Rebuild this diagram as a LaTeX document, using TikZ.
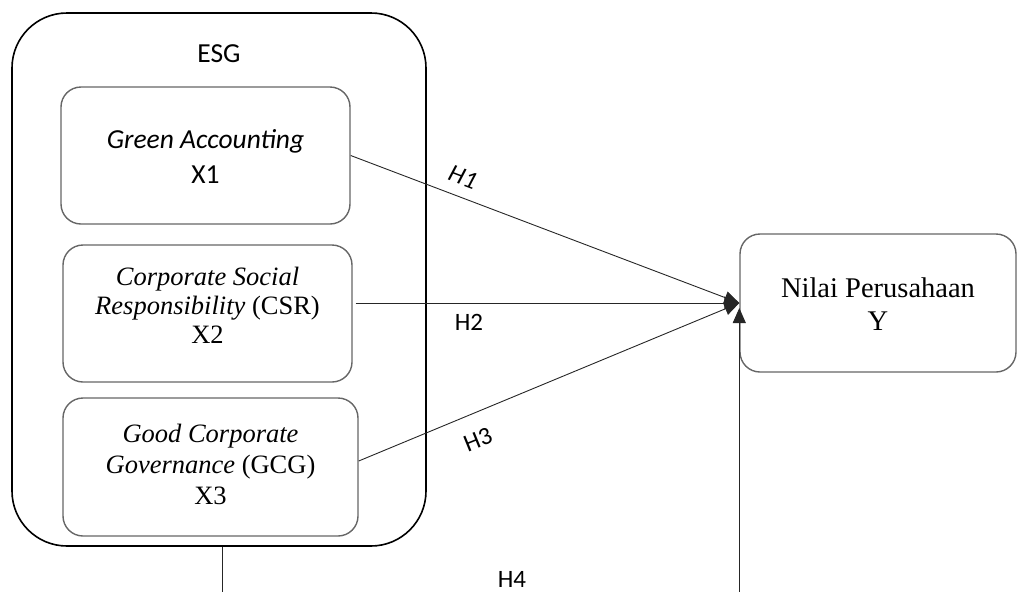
\documentclass[tikz,border=0pt]{standalone}
\usepackage{fontspec}
\setmainfont{Liberation Serif}
\newfontfamily\calibri{Carlito}
\usetikzlibrary{arrows.meta}
\definecolor{boxgray}{HTML}{666666}
\tikzset{
  outerbox/.style={draw=black, line width=1.6pt, rounded corners=55pt, minimum width=414pt, minimum height=533pt, inner sep=0pt},
  ibox/.style={draw=boxgray, line width=1.4pt, rounded corners=20pt, inner sep=0pt},
  caltext/.style={font=\calibri\fontsize{27.5}{35}\selectfont, align=center, inner sep=0pt},
  sertext/.style={align=center, inner sep=0pt},
  hlab/.style={font=\calibri\fontsize{25}{30}\selectfont, inner sep=0pt},
  conn/.style={draw=black!85, line width=0.9pt, -{Triangle[length=15pt,width=13pt]}},
}
\begin{document}
\begin{tikzpicture}[x=1pt,y=-1pt]
\useasboundingbox (0,0) rectangle (1018,592);
\clip (0,0) rectangle (1018,592);

\node[outerbox] (esg) at (219,279.5) {};
\node[caltext, anchor=base] (esglab) at (219,62) {ESG};

\node[ibox, minimum width=289pt, minimum height=137pt] (x1) at (205.5,155.5) {};
\node[caltext] (x1t) at (205.5,156) {\itshape Green Accounting\\X1};

\node[ibox, minimum width=289pt, minimum height=137pt] (x2) at (207.5,313.5) {};
\node[sertext, font=\fontsize{26.5}{29}\selectfont] (x2t) at (207.5,305) {\itshape Corporate Social\\\itshape Responsibility\upshape{} (CSR)\\X2};

\node[ibox, minimum width=295pt, minimum height=138pt] (x3) at (210.5,467) {};
\node[sertext, font=\fontsize{26.5}{31}\selectfont] (x3t) at (210.5,464) {\itshape Good Corporate\\\itshape Governance\upshape{} (GCG)\\X3};

\node[ibox, minimum width=276pt, minimum height=138pt] (Y) at (878,303) {};
\node[sertext, font=\fontsize{28.5}{33}\selectfont] (Yt) at (878,304) {Nilai Perusahaan\\Y};

\draw[conn] (x1.east) -- (Y.west);
\draw[conn] ([xshift=3pt]x2.east |- Y.west) -- (Y.west);
\draw[conn] ([yshift=6pt]x3.east) -- (Y.west);
\draw[conn] ([xshift=3pt]esg.south) -- ++(0,70) -| ([yshift=-5pt]Y.west);

\node[hlab, rotate=-20.7] (h1) at (463,177) {\itshape H1};
\node[hlab] (h2) at (469,322) {H2};
\node[hlab, rotate=22.2] (h3) at (478,440) {H3};
\node[hlab, anchor=base] (h4) at (512,587) {H4};
\end{tikzpicture}
\end{document}
